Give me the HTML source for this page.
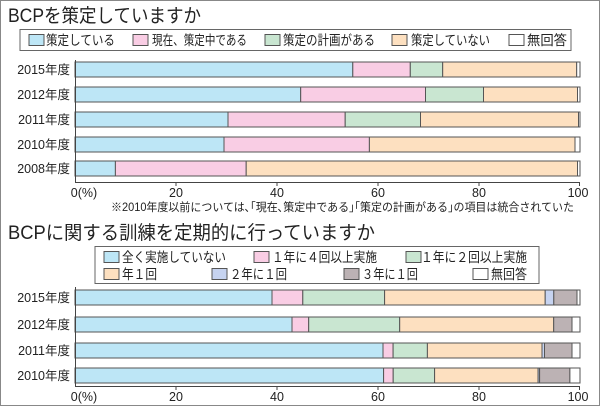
<!DOCTYPE html>
<html><head><meta charset="utf-8"><style>
html,body{margin:0;padding:0;background:#fff}
svg{display:block}
text{font-family:"Liberation Sans","Noto Sans CJK JP",sans-serif;fill:#222}
</style></head><body>
<svg width="600" height="406" viewBox="0 0 600 406" xmlns="http://www.w3.org/2000/svg">
<rect x="0.5" y="0.5" width="599" height="405" fill="#fff" stroke="#888"/>
<text x="8" y="22" font-size="19" textLength="193" lengthAdjust="spacingAndGlyphs">BCPを策定していますか</text>
<rect x="20" y="29.5" width="551" height="21" fill="#fff" stroke="#666"/>
<g stroke="#555" stroke-width="1">
<rect x="29" y="34.5" width="15" height="11" fill="#bde6f6"/>
<rect x="133" y="34.5" width="15" height="11" fill="#f9cde4"/>
<rect x="265" y="34.5" width="15" height="11" fill="#c9e6d1"/>
<rect x="392" y="34.5" width="15" height="11" fill="#fde0c0"/>
<rect x="509" y="34.5" width="15" height="11" fill="#fff"/>
</g>
<g font-size="13.5">
<text x="46" y="45" textLength="69" lengthAdjust="spacingAndGlyphs">策定している</text>
<text x="152" y="45" textLength="95" lengthAdjust="spacingAndGlyphs">現在、策定中である</text>
<text x="283" y="45" textLength="92" lengthAdjust="spacingAndGlyphs">策定の計画がある</text>
<text x="411" y="45" textLength="79" lengthAdjust="spacingAndGlyphs">策定していない</text>
<text x="527" y="45" textLength="40" lengthAdjust="spacingAndGlyphs">無回答</text>
</g>
<g stroke="#555" stroke-width="1">
<g transform="translate(0,62)">
<rect x="75" y="0" width="277.8" height="15" fill="#bde6f6"/>
<rect x="352.8" y="0" width="57.5" height="15" fill="#f9cde4"/>
<rect x="410.3" y="0" width="32.4" height="15" fill="#c9e6d1"/>
<rect x="442.7" y="0" width="134" height="15" fill="#fde0c0"/>
<rect x="576.7" y="0" width="3.3" height="15" fill="#fff"/>
</g>
<g transform="translate(0,87)">
<rect x="75" y="0" width="225.7" height="15" fill="#bde6f6"/>
<rect x="300.7" y="0" width="124.8" height="15" fill="#f9cde4"/>
<rect x="425.5" y="0" width="58" height="15" fill="#c9e6d1"/>
<rect x="483.5" y="0" width="94" height="15" fill="#fde0c0"/>
<rect x="577.5" y="0" width="2.5" height="15" fill="#fff"/>
</g>
<g transform="translate(0,112)">
<rect x="75" y="0" width="153" height="15" fill="#bde6f6"/>
<rect x="228" y="0" width="117.2" height="15" fill="#f9cde4"/>
<rect x="345.2" y="0" width="75.3" height="15" fill="#c9e6d1"/>
<rect x="420.5" y="0" width="158" height="15" fill="#fde0c0"/>
<rect x="578.5" y="0" width="1.5" height="15" fill="#fff"/>
</g>
<g transform="translate(0,137)">
<rect x="75" y="0" width="149" height="15" fill="#bde6f6"/>
<rect x="224" y="0" width="145.4" height="15" fill="#f9cde4"/>
<rect x="369.4" y="0" width="205.6" height="15" fill="#fde0c0"/>
<rect x="575" y="0" width="5" height="15" fill="#fff"/>
</g>
<g transform="translate(0,161)">
<rect x="75" y="0" width="40.4" height="15" fill="#bde6f6"/>
<rect x="115.4" y="0" width="130.8" height="15" fill="#f9cde4"/>
<rect x="246.2" y="0" width="331.3" height="15" fill="#fde0c0"/>
<rect x="577.5" y="0" width="2.5" height="15" fill="#fff"/>
</g>
</g>
<g stroke="#444" stroke-width="1">
<line x1="75.5" y1="60" x2="75.5" y2="182.5"/>
<line x1="75" y1="182.5" x2="580" y2="182.5"/>
<line x1="176" y1="182" x2="176" y2="186"/><line x1="277" y1="182" x2="277" y2="186"/><line x1="378" y1="182" x2="378" y2="186"/><line x1="479" y1="182" x2="479" y2="186"/><line x1="579.5" y1="182" x2="579.5" y2="186"/>
</g>
<g font-size="12.5" text-anchor="end">
<text x="70" y="74">2015年度</text><text x="70" y="99">2012年度</text><text x="70" y="124">2011年度</text><text x="70" y="149">2010年度</text><text x="70" y="173">2008年度</text>
</g>
<g font-size="12.5" text-anchor="middle">
<text x="84" y="197">0(%)</text><text x="176" y="197">20</text><text x="277" y="197">40</text><text x="378" y="197">60</text><text x="479" y="197">80</text><text x="578" y="197">100</text>
</g>
<text x="111" y="211" font-size="11.5" textLength="463" lengthAdjust="spacingAndGlyphs">※2010年度以前については､｢現在､策定中である｣｢策定の計画がある｣の項目は統合されていた</text>

<text x="8" y="239" font-size="19" textLength="367" lengthAdjust="spacingAndGlyphs">BCPに関する訓練を定期的に行っていますか</text>
<rect x="95" y="246.5" width="444" height="37" fill="#fff" stroke="#666"/>
<g stroke="#555" stroke-width="1">
<rect x="104" y="251.5" width="15" height="11" fill="#bde6f6"/>
<rect x="254" y="251.5" width="15" height="11" fill="#f9cde4"/>
<rect x="406" y="251.5" width="15" height="11" fill="#c9e6d1"/>
<rect x="104" y="268.5" width="15" height="11" fill="#fde0c0"/>
<rect x="212" y="268.5" width="15" height="11" fill="#c6d3f0"/>
<rect x="344" y="268.5" width="15" height="11" fill="#bcb2b4"/>
<rect x="473" y="268.5" width="15" height="11" fill="#fff"/>
</g>
<g font-size="13.5">
<text x="122" y="262" textLength="104" lengthAdjust="spacingAndGlyphs">全く実施していない</text>
<text x="272" y="262" textLength="105" lengthAdjust="spacingAndGlyphs">１年に４回以上実施</text>
<text x="421" y="262" textLength="106" lengthAdjust="spacingAndGlyphs">１年に２回以上実施</text>
<text x="122" y="279" textLength="35" lengthAdjust="spacingAndGlyphs">年１回</text>
<text x="230" y="279" textLength="57" lengthAdjust="spacingAndGlyphs">２年に１回</text>
<text x="362" y="279" textLength="56" lengthAdjust="spacingAndGlyphs">３年に１回</text>
<text x="491" y="279" textLength="36" lengthAdjust="spacingAndGlyphs">無回答</text>
</g>
<g stroke="#555" stroke-width="1">
<g transform="translate(0,290)">
<rect x="75" y="0" width="197" height="15" fill="#bde6f6"/>
<rect x="272" y="0" width="30.8" height="15" fill="#f9cde4"/>
<rect x="302.8" y="0" width="81.8" height="15" fill="#c9e6d1"/>
<rect x="384.6" y="0" width="160.6" height="15" fill="#fde0c0"/>
<rect x="545.2" y="0" width="8.6" height="15" fill="#c6d3f0"/>
<rect x="553.8" y="0" width="23.2" height="15" fill="#bcb2b4"/>
<rect x="577" y="0" width="3" height="15" fill="#fff"/>
</g>
<g transform="translate(0,317)">
<rect x="75" y="0" width="217" height="15" fill="#bde6f6"/>
<rect x="292" y="0" width="16.7" height="15" fill="#f9cde4"/>
<rect x="308.7" y="0" width="91" height="15" fill="#c9e6d1"/>
<rect x="399.7" y="0" width="154" height="15" fill="#fde0c0"/>
<rect x="553.7" y="0" width="18.3" height="15" fill="#bcb2b4"/>
<rect x="572" y="0" width="8" height="15" fill="#fff"/>
</g>
<g transform="translate(0,343)">
<rect x="75" y="0" width="308" height="15" fill="#bde6f6"/>
<rect x="383" y="0" width="10.1" height="15" fill="#f9cde4"/>
<rect x="393.1" y="0" width="34.3" height="15" fill="#c9e6d1"/>
<rect x="427.4" y="0" width="114.6" height="15" fill="#fde0c0"/>
<rect x="542" y="0" width="2.5" height="15" fill="#c6d3f0"/>
<rect x="544.5" y="0" width="27.5" height="15" fill="#bcb2b4"/>
<rect x="572" y="0" width="8" height="15" fill="#fff"/>
</g>
<g transform="translate(0,368)">
<rect x="75" y="0" width="308.6" height="15" fill="#bde6f6"/>
<rect x="383.6" y="0" width="9.6" height="15" fill="#f9cde4"/>
<rect x="393.2" y="0" width="41.4" height="15" fill="#c9e6d1"/>
<rect x="434.6" y="0" width="103.5" height="15" fill="#fde0c0"/>
<rect x="538.1" y="0" width="1.5" height="15" fill="#c6d3f0"/>
<rect x="539.6" y="0" width="30.3" height="15" fill="#bcb2b4"/>
<rect x="569.9" y="0" width="10.1" height="15" fill="#fff"/>
</g>
</g>
<g stroke="#444" stroke-width="1">
<line x1="75.5" y1="287" x2="75.5" y2="386.5"/>
<line x1="75" y1="386.5" x2="580" y2="386.5"/>
<line x1="176" y1="386" x2="176" y2="390"/><line x1="277" y1="386" x2="277" y2="390"/><line x1="378" y1="386" x2="378" y2="390"/><line x1="479" y1="386" x2="479" y2="390"/><line x1="579.5" y1="386" x2="579.5" y2="390"/>
</g>
<g font-size="12.5" text-anchor="end">
<text x="70" y="302">2015年度</text><text x="70" y="329">2012年度</text><text x="70" y="355">2011年度</text><text x="70" y="380">2010年度</text>
</g>
<g font-size="12.5" text-anchor="middle">
<text x="84" y="401">0(%)</text><text x="176" y="401">20</text><text x="277" y="401">40</text><text x="378" y="401">60</text><text x="479" y="401">80</text><text x="578" y="401">100</text>
</g>
</svg>
</body></html>
